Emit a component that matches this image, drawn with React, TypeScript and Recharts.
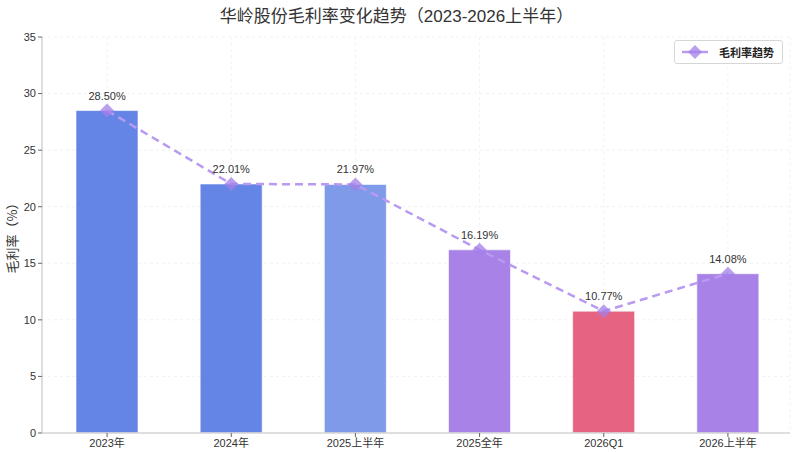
import React from "react";
import {
  ComposedChart,
  Bar,
  Line,
  Cell,
  XAxis,
  YAxis,
  CartesianGrid,
  LabelList,
} from "recharts";

const periods = ["2023年", "2024年", "2025上半年", "2025全年", "2026Q1", "2026上半年"];
const grossMargin = [28.5, 22.01, 21.97, 16.19, 10.77, 14.08];
const barColors = ["#6585e6", "#6585e6", "#7f9ae9", "#a882e6", "#e66481", "#a882e6"];
const yTicks = [0, 5, 10, 15, 20, 25, 30, 35];

const data = periods.map((name, i) => ({ name, margin: grossMargin[i] }));

const FONT = '"Liberation Sans", "Noto Sans CJK SC", sans-serif';

const Diamond = (props: any) => {
  const { cx, cy } = props;
  if (cx == null || cy == null) return null;
  const r = 7;
  return (
    <path
      d={`M${cx},${cy - r} L${cx + r},${cy} L${cx},${cy + r} L${cx - r},${cy} Z`}
      fill="#a37fe8"
      fillOpacity={0.75}
    />
  );
};

const LegendBox = () => (
  <div
    style={{
      position: "absolute",
      top: 40,
      right: 10,
      display: "flex",
      alignItems: "center",
      border: "1px solid #d6d6d6",
      borderRadius: 3,
      background: "#fff",
      padding: "3px 8px 3px 6px",
      fontFamily: FONT,
      fontSize: 11,
      fontWeight: "bold",
      color: "#222",
    }}
  >
    <svg width={28} height={14} style={{ marginRight: 10 }}>
      <line x1={1} y1={7} x2={27} y2={7} stroke="#b89af0" strokeWidth={2.5} />
      <path d="M14,0 L21,7 L14,14 L7,7 Z" fill="#a37fe8" fillOpacity={0.75} />
    </svg>
    毛利率趋势
  </div>
);

export default function App() {
  return (
    <div style={{ position: "relative", width: 793, height: 452, background: "#fff" }}>
      <style>{"body{margin:0}"}</style>
      <div
        style={{
          position: "absolute",
          top: 2,
          left: 0,
          width: 793,
          textAlign: "center",
          fontFamily: FONT,
          fontSize: 17,
          color: "#333",
        }}
      >
        华岭股份毛利率变化趋势（2023-2026上半年）
      </div>
      <ComposedChart
        width={793}
        height={452}
        data={data}
        margin={{ top: 37, right: 3, bottom: 0, left: 0 }}
        barCategoryGap="25%"
      >
        <CartesianGrid strokeDasharray="3 3" stroke="#f2f2f2" />
        <XAxis
          dataKey="name"
          height={19}
          padding={{ left: 3, right: 0 }}
          tick={{ fontSize: 11, fill: "#333", fontFamily: FONT }}
          tickLine={{ stroke: "#666" }}
          tickSize={4}
          axisLine={{ stroke: "#d4d4d4", strokeWidth: 1.5 }}
        />
        <YAxis
          width={42}
          domain={[0, 35]}
          ticks={yTicks}
          tick={{ fontSize: 11, fill: "#333", fontFamily: FONT }}
          tickLine={{ stroke: "#666" }}
          tickSize={4}
          axisLine={{ stroke: "#d4d4d4", strokeWidth: 1.5 }}
          label={{
            value: "毛利率（%）",
            angle: -90,
            position: "center",
            dx: -9,
            style: { fontSize: 13, fill: "#333", fontFamily: '"Noto Sans CJK SC", sans-serif' },
          }}
        />
        <Bar dataKey="margin" barSize={62} stroke="#ffffff" strokeOpacity={0.6} isAnimationActive={false}>
          {data.map((d, i) => (
            <Cell key={d.name} fill={barColors[i]} />
          ))}
        </Bar>
        <Line
          dataKey="margin"
          name="毛利率趋势"
          stroke="#b89af0"
          strokeWidth={2.5}
          strokeDasharray="8 5"
          dot={<Diamond />}
          activeDot={false}
          isAnimationActive={false}
        >
          <LabelList
            dataKey="margin"
            position="top"
            offset={11}
            formatter={(v: any) => `${Number(v).toFixed(2)}%`}
            style={{ fontSize: 11, fill: "#333", fontFamily: FONT }}
          />
        </Line>
      </ComposedChart>
      <LegendBox />
    </div>
  );
}
